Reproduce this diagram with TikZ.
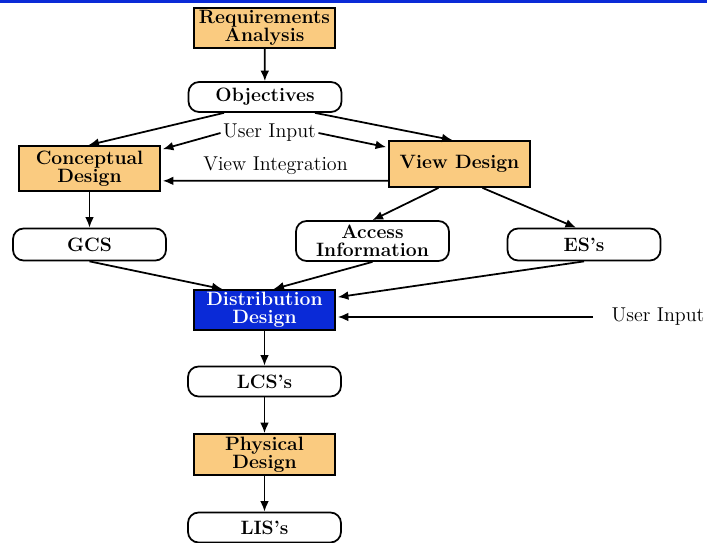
\documentclass[tikz,border=0pt]{standalone}
\usepackage{tikz}
\usetikzlibrary{positioning}
\usetikzlibrary{calc,arrows.meta}
\definecolor{phaseorange}{RGB}{250,203,128}
\definecolor{distblue}{RGB}{10,42,215}

\begin{document}
\begin{tikzpicture}[x=0.02cm,y=-0.02cm,line width=1pt,
		>={Latex[length=6pt,width=5pt]},
		phase/.style={draw,fill=phaseorange,minimum width=2.82cm,minimum height=0.82cm,inner sep=1pt,align=center,
		font=\fontsize{11}{10}\selectfont\bfseries},
		result/.style={draw,rounded corners=6pt,minimum width=3.06cm,minimum height=0.6cm,inner sep=1pt,align=center,
		font=\fontsize{11}{10}\selectfont\bfseries},
		remark/.style={inner sep=1pt,font=\fontsize{11.4}{12}\selectfont},
		]
		\useasboundingbox (0,0) rectangle (707,543);
		\fill[distblue] (0,0) rectangle (707,3.5);

		% design phases
		\path (264.5,28) node[phase,minimum height=0.8cm] (req){Requirements\\Analysis};
		\path (89.5,168.5) node[phase,minimum height=0.9cm] (concept){Conceptual\\Design};
		\path (459.5,164) node[phase,minimum height=0.92cm] (view){View Design};
		\path (264.5,310) node[phase,minimum height=0.8cm,fill=distblue,text=white] (dist){Distribution\\Design};
		\path (264.5,454.5) node[phase] (phys){Physical\\Design};

		% results
		\path (265,97) node[result] (obj){Objectives};
		\path (89.5,244.5) node[result,minimum height=0.64cm] (gcs){GCS};
		\path (372.5,241) node[result,minimum height=0.8cm] (access){Access\\Information};
		\path (584,244.5) node[result,minimum height=0.64cm] (es){ES's};
		\path (264.5,381.5) node[result] (lcs){LCS's};
		\path (264.5,527.5) node[result] (lis){LIS's};

		% inputs
		\path (269.5,133) node[remark] (uinput){User Input};
		\path (658,317) node[remark] (uin){User Input};

		\draw[->] (req) -- (obj);
		\draw[->] ($(obj.south)+(-41,0)$) -- ($(concept.north)+(-1,0)$);
		\draw[->] ($(obj.south)+(50,0)$) -- ($(view.north)+(-7,0)$);
		\draw[->] (uinput.west) -- ($(concept.north east)+(2,4)$);
		\draw[->] (uinput.east) -- ($(view.north west)+(-2,7)$);
		\draw[->] ($(view.south west)+(0,-7)$) -- ($(concept.south east)+(2,-11)$)
			node[remark,midway,above=2pt] (vi){View Integration};
		\draw[->] (concept) -- (gcs);
		\draw[->] ($(view.south)+(-21,0)$) -- (access.north);
		\draw[->] ($(view.south)+(23,0)$) -- ($(es.north)+(-8,0)$);
		\draw[->] (gcs.south) -- ($(dist.north)+(-42,0)$);
		\draw[->] (access.south) -- ($(dist.north)+(9,0)$);
		\draw[->] (es.south) -- ($(dist.north east)+(2,8)$);
		\draw[->] ($(uin.west)+(-16,0)$) -- ($(dist.east |- uin.west)+(2,0)$);
		\draw[->] (dist) -- (lcs);
		\draw[->] (lcs) -- (phys);
		\draw[->] (phys) -- (lis);

	\end{tikzpicture}
\end{document}
